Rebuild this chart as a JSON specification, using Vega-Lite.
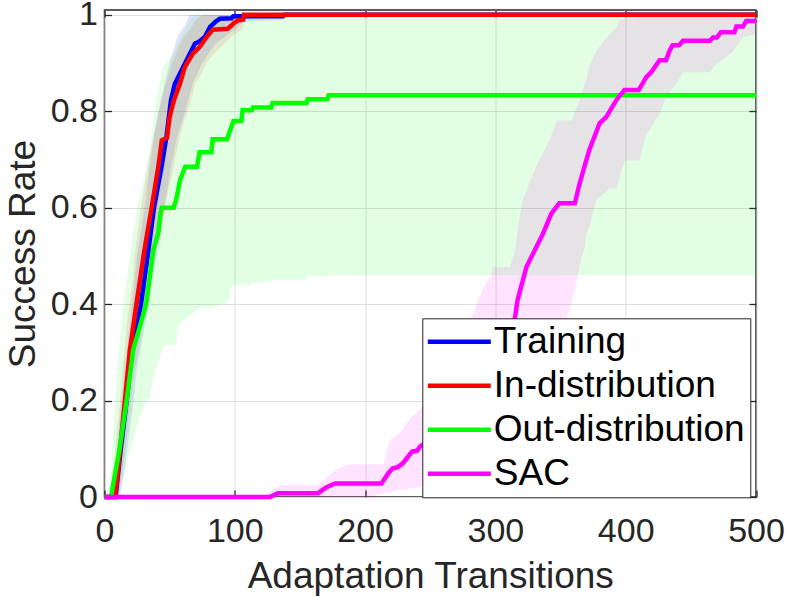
{
  "$schema": "https://vega.github.io/schema/vega-lite/v6.json",
  "autosize": {"type": "none"},
  "padding": {"left": 104.5, "top": 10, "right": 33, "bottom": 100},
  "width": 651.5,
  "height": 487,
  "background": "white",
  "config": {
    "view": {"stroke": "#262626", "strokeWidth": 1.5},
    "font": "Liberation Sans",
    "axis": {
      "labelFont": "Liberation Sans",
      "titleFont": "Liberation Sans",
      "labelFontSize": 34,
      "titleFontSize": 37,
      "titleFontWeight": "normal",
      "labelColor": "#262626",
      "titleColor": "#262626",
      "tickColor": "#262626",
      "tickSize": -7,
      "tickWidth": 1.3,
      "labelFlush": false,
      "domain": false,
      "gridColor": "#dedede",
      "gridWidth": 1
    }
  },
  "datasets": {
    "mean": [
      {"s": "Training", "x": 0, "y": 0}, {"s": "Training", "x": 8.5, "y": 0}, {"s": "Training", "x": 12.5, "y": 0.1},
      {"s": "Training", "x": 17, "y": 0.2}, {"s": "Training", "x": 21, "y": 0.3}, {"s": "Training", "x": 28, "y": 0.4},
      {"s": "Training", "x": 33.6, "y": 0.51}, {"s": "Training", "x": 38, "y": 0.6}, {"s": "Training", "x": 43.8, "y": 0.685},
      {"s": "Training", "x": 47.7, "y": 0.75}, {"s": "Training", "x": 51, "y": 0.823}, {"s": "Training", "x": 54, "y": 0.857},
      {"s": "Training", "x": 60.4, "y": 0.892}, {"s": "Training", "x": 65.6, "y": 0.92}, {"s": "Training", "x": 69.4, "y": 0.94},
      {"s": "Training", "x": 73, "y": 0.945}, {"s": "Training", "x": 77, "y": 0.954}, {"s": "Training", "x": 81, "y": 0.975},
      {"s": "Training", "x": 85, "y": 0.985}, {"s": "Training", "x": 88.5, "y": 0.992}, {"s": "Training", "x": 97.5, "y": 0.993},
      {"s": "Training", "x": 99, "y": 0.997}, {"s": "Training", "x": 137, "y": 0.997}, {"s": "Training", "x": 138, "y": 1},
      {"s": "Training", "x": 500, "y": 1},
      {"s": "In-distribution", "x": 0, "y": 0}, {"s": "In-distribution", "x": 8, "y": 0}, {"s": "In-distribution", "x": 9.3, "y": 0.028},
      {"s": "In-distribution", "x": 11.9, "y": 0.097}, {"s": "In-distribution", "x": 15.7, "y": 0.2}, {"s": "In-distribution", "x": 19.5, "y": 0.305},
      {"s": "In-distribution", "x": 24.5, "y": 0.4}, {"s": "In-distribution", "x": 30.5, "y": 0.51}, {"s": "In-distribution", "x": 36.2, "y": 0.6},
      {"s": "In-distribution", "x": 41.3, "y": 0.685}, {"s": "In-distribution", "x": 44, "y": 0.74}, {"s": "In-distribution", "x": 48, "y": 0.745},
      {"s": "In-distribution", "x": 50, "y": 0.788}, {"s": "In-distribution", "x": 53.3, "y": 0.823}, {"s": "In-distribution", "x": 57.9, "y": 0.857},
      {"s": "In-distribution", "x": 61.7, "y": 0.892}, {"s": "In-distribution", "x": 68, "y": 0.92}, {"s": "In-distribution", "x": 73, "y": 0.933},
      {"s": "In-distribution", "x": 78.4, "y": 0.954}, {"s": "In-distribution", "x": 83, "y": 0.969}, {"s": "In-distribution", "x": 94.5, "y": 0.971},
      {"s": "In-distribution", "x": 99, "y": 0.982}, {"s": "In-distribution", "x": 102, "y": 0.988}, {"s": "In-distribution", "x": 106.5, "y": 0.99},
      {"s": "In-distribution", "x": 107, "y": 1}, {"s": "In-distribution", "x": 500, "y": 1},
      {"s": "Out-distribution", "x": 0, "y": 0}, {"s": "Out-distribution", "x": 5, "y": 0}, {"s": "Out-distribution", "x": 6.8, "y": 0.028},
      {"s": "Out-distribution", "x": 11.4, "y": 0.097}, {"s": "Out-distribution", "x": 17, "y": 0.2}, {"s": "Out-distribution", "x": 22, "y": 0.305},
      {"s": "Out-distribution", "x": 32, "y": 0.4}, {"s": "Out-distribution", "x": 37.5, "y": 0.512}, {"s": "Out-distribution", "x": 41.3, "y": 0.547},
      {"s": "Out-distribution", "x": 43, "y": 0.588}, {"s": "Out-distribution", "x": 44, "y": 0.6}, {"s": "Out-distribution", "x": 53, "y": 0.6},
      {"s": "Out-distribution", "x": 55, "y": 0.616}, {"s": "Out-distribution", "x": 58, "y": 0.657}, {"s": "Out-distribution", "x": 62, "y": 0.685},
      {"s": "Out-distribution", "x": 71, "y": 0.685}, {"s": "Out-distribution", "x": 73, "y": 0.715}, {"s": "Out-distribution", "x": 82, "y": 0.715},
      {"s": "Out-distribution", "x": 83, "y": 0.742}, {"s": "Out-distribution", "x": 94, "y": 0.742}, {"s": "Out-distribution", "x": 99, "y": 0.78},
      {"s": "Out-distribution", "x": 105, "y": 0.78}, {"s": "Out-distribution", "x": 106, "y": 0.802}, {"s": "Out-distribution", "x": 113, "y": 0.802},
      {"s": "Out-distribution", "x": 114, "y": 0.808}, {"s": "Out-distribution", "x": 128, "y": 0.808}, {"s": "Out-distribution", "x": 129, "y": 0.817},
      {"s": "Out-distribution", "x": 155, "y": 0.817}, {"s": "Out-distribution", "x": 156, "y": 0.825}, {"s": "Out-distribution", "x": 171, "y": 0.825},
      {"s": "Out-distribution", "x": 172, "y": 0.833}, {"s": "Out-distribution", "x": 500, "y": 0.833},
      {"s": "SAC", "x": 0, "y": 0}, {"s": "SAC", "x": 127, "y": 0}, {"s": "SAC", "x": 133, "y": 0.008},
      {"s": "SAC", "x": 164, "y": 0.008}, {"s": "SAC", "x": 170, "y": 0.02}, {"s": "SAC", "x": 177, "y": 0.028},
      {"s": "SAC", "x": 212.5, "y": 0.028}, {"s": "SAC", "x": 218, "y": 0.05}, {"s": "SAC", "x": 221, "y": 0.059},
      {"s": "SAC", "x": 225, "y": 0.062}, {"s": "SAC", "x": 229, "y": 0.07}, {"s": "SAC", "x": 236, "y": 0.094},
      {"s": "SAC", "x": 240, "y": 0.096}, {"s": "SAC", "x": 242, "y": 0.104}, {"s": "SAC", "x": 260, "y": 0.14},
      {"s": "SAC", "x": 280, "y": 0.2}, {"s": "SAC", "x": 300, "y": 0.29}, {"s": "SAC", "x": 315, "y": 0.371},
      {"s": "SAC", "x": 317, "y": 0.408}, {"s": "SAC", "x": 323.8, "y": 0.477}, {"s": "SAC", "x": 336.5, "y": 0.546},
      {"s": "SAC", "x": 343, "y": 0.588}, {"s": "SAC", "x": 349, "y": 0.609}, {"s": "SAC", "x": 361, "y": 0.609},
      {"s": "SAC", "x": 364.6, "y": 0.65}, {"s": "SAC", "x": 372, "y": 0.719}, {"s": "SAC", "x": 376, "y": 0.747},
      {"s": "SAC", "x": 380, "y": 0.775}, {"s": "SAC", "x": 385, "y": 0.788}, {"s": "SAC", "x": 392.8, "y": 0.823},
      {"s": "SAC", "x": 399, "y": 0.844}, {"s": "SAC", "x": 410, "y": 0.844}, {"s": "SAC", "x": 415.8, "y": 0.871},
      {"s": "SAC", "x": 419.6, "y": 0.881}, {"s": "SAC", "x": 426, "y": 0.906}, {"s": "SAC", "x": 431, "y": 0.906},
      {"s": "SAC", "x": 433.7, "y": 0.926}, {"s": "SAC", "x": 436, "y": 0.937}, {"s": "SAC", "x": 441, "y": 0.937},
      {"s": "SAC", "x": 444, "y": 0.946}, {"s": "SAC", "x": 464.6, "y": 0.946}, {"s": "SAC", "x": 467, "y": 0.953},
      {"s": "SAC", "x": 470, "y": 0.953}, {"s": "SAC", "x": 473, "y": 0.964}, {"s": "SAC", "x": 483.5, "y": 0.964},
      {"s": "SAC", "x": 485, "y": 0.976}, {"s": "SAC", "x": 490, "y": 0.976}, {"s": "SAC", "x": 492.5, "y": 0.987},
      {"s": "SAC", "x": 499, "y": 0.987}, {"s": "SAC", "x": 500, "y": 0.99}
    ],
    "band": [
      {"s": "Training", "x": 0, "lo": 0, "hi": 0}, {"s": "Training", "x": 5, "lo": 0, "hi": 0}, {"s": "Training", "x": 8, "lo": 0, "hi": 0.05},
      {"s": "Training", "x": 12, "lo": 0, "hi": 0.17}, {"s": "Training", "x": 15, "lo": 0.05, "hi": 0.25}, {"s": "Training", "x": 17, "lo": 0.09, "hi": 0.3},
      {"s": "Training", "x": 20, "lo": 0.15, "hi": 0.37}, {"s": "Training", "x": 22, "lo": 0.19, "hi": 0.42}, {"s": "Training", "x": 25, "lo": 0.27, "hi": 0.5},
      {"s": "Training", "x": 28, "lo": 0.31, "hi": 0.55}, {"s": "Training", "x": 32, "lo": 0.37, "hi": 0.62}, {"s": "Training", "x": 33, "lo": 0.39, "hi": 0.65},
      {"s": "Training", "x": 38, "lo": 0.47, "hi": 0.75}, {"s": "Training", "x": 43, "lo": 0.55, "hi": 0.82}, {"s": "Training", "x": 44, "lo": 0.57, "hi": 0.83},
      {"s": "Training", "x": 49, "lo": 0.65, "hi": 0.89}, {"s": "Training", "x": 50, "lo": 0.67, "hi": 0.9}, {"s": "Training", "x": 56, "lo": 0.75, "hi": 0.955},
      {"s": "Training", "x": 62, "lo": 0.8, "hi": 0.98}, {"s": "Training", "x": 65, "lo": 0.83, "hi": 1}, {"s": "Training", "x": 68, "lo": 0.86, "hi": 1},
      {"s": "Training", "x": 75, "lo": 0.9, "hi": 1}, {"s": "Training", "x": 85, "lo": 0.94, "hi": 1}, {"s": "Training", "x": 100, "lo": 0.97, "hi": 1},
      {"s": "Training", "x": 106, "lo": 0.985, "hi": 1}, {"s": "Training", "x": 136, "lo": 0.99, "hi": 1}, {"s": "Training", "x": 137, "lo": 1, "hi": 1},
      {"s": "Training", "x": 500, "lo": 1, "hi": 1},
      {"s": "In-distribution", "x": 0, "lo": 0, "hi": 0}, {"s": "In-distribution", "x": 4, "lo": 0, "hi": 0}, {"s": "In-distribution", "x": 7, "lo": 0, "hi": 0.06},
      {"s": "In-distribution", "x": 10, "lo": 0, "hi": 0.15}, {"s": "In-distribution", "x": 11, "lo": 0, "hi": 0.17}, {"s": "In-distribution", "x": 14, "lo": 0.06, "hi": 0.27},
      {"s": "In-distribution", "x": 18, "lo": 0.15, "hi": 0.38}, {"s": "In-distribution", "x": 22, "lo": 0.24, "hi": 0.46}, {"s": "In-distribution", "x": 23, "lo": 0.26, "hi": 0.5},
      {"s": "In-distribution", "x": 28, "lo": 0.33, "hi": 0.6}, {"s": "In-distribution", "x": 34, "lo": 0.43, "hi": 0.7}, {"s": "In-distribution", "x": 40, "lo": 0.52, "hi": 0.78},
      {"s": "In-distribution", "x": 46, "lo": 0.6, "hi": 0.85}, {"s": "In-distribution", "x": 52, "lo": 0.67, "hi": 0.9}, {"s": "In-distribution", "x": 58, "lo": 0.75, "hi": 0.94},
      {"s": "In-distribution", "x": 60, "lo": 0.77, "hi": 0.95}, {"s": "In-distribution", "x": 64, "lo": 0.8, "hi": 0.965}, {"s": "In-distribution", "x": 68, "lo": 0.84, "hi": 0.98},
      {"s": "In-distribution", "x": 70, "lo": 0.86, "hi": 0.99}, {"s": "In-distribution", "x": 75, "lo": 0.88, "hi": 1}, {"s": "In-distribution", "x": 78, "lo": 0.9, "hi": 1},
      {"s": "In-distribution", "x": 88, "lo": 0.93, "hi": 1}, {"s": "In-distribution", "x": 100, "lo": 0.96, "hi": 1}, {"s": "In-distribution", "x": 106, "lo": 0.97, "hi": 1},
      {"s": "In-distribution", "x": 108, "lo": 1, "hi": 1}, {"s": "In-distribution", "x": 500, "lo": 1, "hi": 1},
      {"s": "Out-distribution", "x": 0, "lo": 0, "hi": 0}, {"s": "Out-distribution", "x": 4, "lo": 0, "hi": 0}, {"s": "Out-distribution", "x": 6, "lo": 0, "hi": 0.1},
      {"s": "Out-distribution", "x": 10, "lo": 0, "hi": 0.28}, {"s": "Out-distribution", "x": 11, "lo": 0.01, "hi": 0.3}, {"s": "Out-distribution", "x": 13, "lo": 0.03, "hi": 0.36},
      {"s": "Out-distribution", "x": 17, "lo": 0.07, "hi": 0.45}, {"s": "Out-distribution", "x": 21, "lo": 0.11, "hi": 0.53}, {"s": "Out-distribution", "x": 22, "lo": 0.12, "hi": 0.55},
      {"s": "Out-distribution", "x": 27, "lo": 0.166, "hi": 0.62}, {"s": "Out-distribution", "x": 32, "lo": 0.2, "hi": 0.68}, {"s": "Out-distribution", "x": 35, "lo": 0.208, "hi": 0.72},
      {"s": "Out-distribution", "x": 37.5, "lo": 0.25, "hi": 0.78}, {"s": "Out-distribution", "x": 41, "lo": 0.277, "hi": 0.84}, {"s": "Out-distribution", "x": 44, "lo": 0.3, "hi": 0.88},
      {"s": "Out-distribution", "x": 45, "lo": 0.315, "hi": 0.89}, {"s": "Out-distribution", "x": 53, "lo": 0.315, "hi": 0.92}, {"s": "Out-distribution", "x": 55, "lo": 0.315, "hi": 0.93},
      {"s": "Out-distribution", "x": 56, "lo": 0.353, "hi": 0.94}, {"s": "Out-distribution", "x": 60, "lo": 0.367, "hi": 0.96}, {"s": "Out-distribution", "x": 62, "lo": 0.37, "hi": 0.97},
      {"s": "Out-distribution", "x": 66, "lo": 0.377, "hi": 0.99}, {"s": "Out-distribution", "x": 70, "lo": 0.385, "hi": 1}, {"s": "Out-distribution", "x": 73, "lo": 0.394, "hi": 1},
      {"s": "Out-distribution", "x": 83, "lo": 0.394, "hi": 1}, {"s": "Out-distribution", "x": 95, "lo": 0.405, "hi": 1}, {"s": "Out-distribution", "x": 97, "lo": 0.43, "hi": 1},
      {"s": "Out-distribution", "x": 99, "lo": 0.44, "hi": 1}, {"s": "Out-distribution", "x": 113, "lo": 0.44, "hi": 1}, {"s": "Out-distribution", "x": 114, "lo": 0.446, "hi": 1},
      {"s": "Out-distribution", "x": 128, "lo": 0.446, "hi": 1}, {"s": "Out-distribution", "x": 129, "lo": 0.451, "hi": 1}, {"s": "Out-distribution", "x": 155, "lo": 0.451, "hi": 1},
      {"s": "Out-distribution", "x": 156, "lo": 0.458, "hi": 1}, {"s": "Out-distribution", "x": 171, "lo": 0.458, "hi": 1}, {"s": "Out-distribution", "x": 172, "lo": 0.46, "hi": 1},
      {"s": "Out-distribution", "x": 500, "lo": 0.46, "hi": 1},
      {"s": "SAC", "x": 0, "lo": 0, "hi": 0}, {"s": "SAC", "x": 120, "lo": 0, "hi": 0}, {"s": "SAC", "x": 127, "lo": 0, "hi": 0.01},
      {"s": "SAC", "x": 135, "lo": 0, "hi": 0.025}, {"s": "SAC", "x": 164, "lo": 0, "hi": 0.025}, {"s": "SAC", "x": 170, "lo": 0, "hi": 0.04},
      {"s": "SAC", "x": 180, "lo": 0, "hi": 0.06}, {"s": "SAC", "x": 188, "lo": 0, "hi": 0.068}, {"s": "SAC", "x": 208, "lo": 0, "hi": 0.068},
      {"s": "SAC", "x": 210, "lo": 0.007, "hi": 0.068}, {"s": "SAC", "x": 214, "lo": 0.008, "hi": 0.068}, {"s": "SAC", "x": 219, "lo": 0.01, "hi": 0.118},
      {"s": "SAC", "x": 226.6, "lo": 0.0145, "hi": 0.132}, {"s": "SAC", "x": 235.6, "lo": 0.018, "hi": 0.166}, {"s": "SAC", "x": 242, "lo": 0.021, "hi": 0.18},
      {"s": "SAC", "x": 255, "lo": 0.03, "hi": 0.23}, {"s": "SAC", "x": 270, "lo": 0.05, "hi": 0.3}, {"s": "SAC", "x": 283, "lo": 0.08, "hi": 0.381},
      {"s": "SAC", "x": 285.6, "lo": 0.085, "hi": 0.401}, {"s": "SAC", "x": 290, "lo": 0.095, "hi": 0.429}, {"s": "SAC", "x": 294, "lo": 0.105, "hi": 0.45},
      {"s": "SAC", "x": 297, "lo": 0.11, "hi": 0.46}, {"s": "SAC", "x": 298, "lo": 0.112, "hi": 0.477}, {"s": "SAC", "x": 311, "lo": 0.15, "hi": 0.477},
      {"s": "SAC", "x": 315, "lo": 0.16, "hi": 0.51}, {"s": "SAC", "x": 318.6, "lo": 0.17, "hi": 0.581}, {"s": "SAC", "x": 321, "lo": 0.18, "hi": 0.616},
      {"s": "SAC", "x": 331, "lo": 0.22, "hi": 0.685}, {"s": "SAC", "x": 341.6, "lo": 0.28, "hi": 0.74}, {"s": "SAC", "x": 346.8, "lo": 0.31, "hi": 0.781},
      {"s": "SAC", "x": 350, "lo": 0.33, "hi": 0.781}, {"s": "SAC", "x": 358, "lo": 0.4, "hi": 0.781}, {"s": "SAC", "x": 359, "lo": 0.41, "hi": 0.781},
      {"s": "SAC", "x": 361, "lo": 0.436, "hi": 0.8}, {"s": "SAC", "x": 364.6, "lo": 0.477, "hi": 0.823}, {"s": "SAC", "x": 368.5, "lo": 0.52, "hi": 0.858},
      {"s": "SAC", "x": 370, "lo": 0.546, "hi": 0.87}, {"s": "SAC", "x": 372, "lo": 0.56, "hi": 0.892}, {"s": "SAC", "x": 377.5, "lo": 0.616, "hi": 0.926},
      {"s": "SAC", "x": 387.6, "lo": 0.64, "hi": 0.96}, {"s": "SAC", "x": 393, "lo": 0.64, "hi": 0.975}, {"s": "SAC", "x": 395, "lo": 0.66, "hi": 0.989},
      {"s": "SAC", "x": 397.8, "lo": 0.685, "hi": 0.99}, {"s": "SAC", "x": 400, "lo": 0.698, "hi": 0.992}, {"s": "SAC", "x": 410.6, "lo": 0.698, "hi": 0.996},
      {"s": "SAC", "x": 415.8, "lo": 0.754, "hi": 0.998}, {"s": "SAC", "x": 418, "lo": 0.76, "hi": 1}, {"s": "SAC", "x": 426, "lo": 0.795, "hi": 1},
      {"s": "SAC", "x": 431, "lo": 0.83, "hi": 1}, {"s": "SAC", "x": 438.8, "lo": 0.857, "hi": 1}, {"s": "SAC", "x": 444, "lo": 0.881, "hi": 1},
      {"s": "SAC", "x": 464.6, "lo": 0.881, "hi": 1}, {"s": "SAC", "x": 470, "lo": 0.899, "hi": 1}, {"s": "SAC", "x": 482, "lo": 0.923, "hi": 1},
      {"s": "SAC", "x": 490, "lo": 0.954, "hi": 1}, {"s": "SAC", "x": 500, "lo": 0.96, "hi": 1}
    ]
  },
  "layer": [
    {
      "data": {"name": "band"},
      "mark": {"type": "area", "fillOpacity": 0.11},
      "encoding": {
        "x": {
          "field": "x",
          "type": "quantitative",
          "scale": {"domain": [0, 500], "nice": false},
          "axis": {"orient": "top", "labels": false, "title": null, "grid": false, "values": [0, 100, 200, 300, 400, 500]}
        },
        "y": {
          "field": "lo",
          "type": "quantitative",
          "scale": {"domain": [0, 1.01], "nice": false},
          "axis": {"orient": "right", "labels": false, "title": null, "grid": false, "values": [0, 0.2, 0.4, 0.6, 0.8, 1]}
        },
        "y2": {"field": "hi"},
        "color": {
          "field": "s",
          "type": "nominal",
          "scale": {
            "domain": ["Training", "In-distribution", "Out-distribution", "SAC"],
            "range": ["#0000ff", "#ff0000", "#00ff00", "#ff00ff"]
          }
        }
      }
    },
    {
      "data": {"name": "mean"},
      "mark": {"type": "line", "strokeWidth": 4.5},
      "encoding": {
        "x": {
          "field": "x",
          "type": "quantitative",
          "axis": {
            "orient": "bottom",
            "title": "Adaptation Transitions",
            "values": [0, 100, 200, 300, 400, 500],
            "labelPadding": 24,
            "titlePadding": 10,
            "grid": true
          }
        },
        "y": {
          "field": "y",
          "type": "quantitative",
          "axis": {
            "orient": "left",
            "title": "Success Rate",
            "values": [0, 0.2, 0.4, 0.6, 0.8, 1],
            "format": "~g",
            "labelPadding": 14,
            "titlePadding": 8,
            "grid": true
          }
        },
        "color": {
          "field": "s",
          "type": "nominal",
          "scale": {
            "domain": ["Training", "In-distribution", "Out-distribution", "SAC"],
            "range": ["#0000ff", "#ff0000", "#00ff00", "#ff00ff"]
          },
          "legend": {
            "orient": "none",
            "legendX": 317.8,
            "legendY": 308.3,
            "title": null,
            "symbolType": "M-2.52,0H2.52",
            "symbolSize": 625,
            "symbolStrokeWidth": 4.5,
            "symbolOpacity": 1,
            "symbolOffset": 13.5,
            "labelFont": "Liberation Sans",
            "labelFontSize": 37,
            "labelColor": "black",
            "labelLimit": 0,
            "labelOffset": 16,
            "fillColor": "white",
            "strokeColor": "#262626",
            "padding": 5,
            "rowPadding": 6,
            "cornerRadius": 0
          }
        }
      }
    }
  ],
  "resolve": {"axis": {"x": "independent", "y": "independent"}}
}
